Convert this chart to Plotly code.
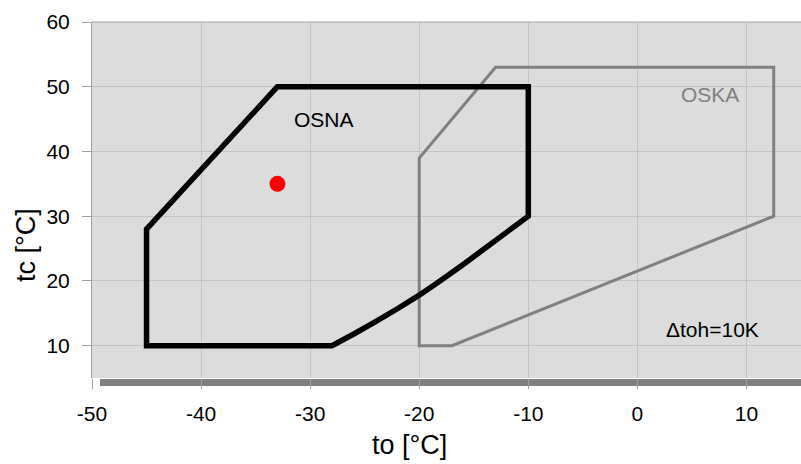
import plotly.graph_objects as go

# OSNA envelope (black); first segment repeated at the end to close the outline cleanly
osna_to = [-45, -45, -33, -10, -10, -12, -14, -16, -18, -20, -22, -24, -26, -28, -45, -45, -33]
osna_tc = [10, 28, 50, 50, 30, 27.5, 25.0, 22.5, 20.1, 17.8, 15.7, 13.7, 11.8, 10, 10, 28, 50]

# OSKA envelope (gray)
oska_to = [-20, -20, -13, 12.5, 12.5, -17, -20, -20, -13]
oska_tc = [10, 39, 53, 53, 30, 10, 10, 39, 53]

# operating point
point_to = [-33]
point_tc = [35]

x_ticks = [-50, -40, -30, -20, -10, 0, 10]
x_ticklabels = ["-50", "-40", "-30", "-20", "-10", "0", "10"]
y_ticks = [10, 20, 30, 40, 50, 60]

FONT = "Liberation Sans, Arial, sans-serif"

fig = go.Figure()
fig.add_trace(go.Scatter(x=oska_to, y=oska_tc, mode="lines",
                         line=dict(color="#808080", width=3, simplify=False), hoverinfo="skip"))
fig.add_trace(go.Scatter(x=osna_to, y=osna_tc, mode="lines",
                         line=dict(color="#000000", width=5.5, simplify=False), hoverinfo="skip"))
fig.add_trace(go.Scatter(x=point_to, y=point_tc, mode="markers",
                         marker=dict(color="#ff0000", size=16), hoverinfo="skip"))

fig.add_annotation(x=-28.7, y=45, text="OSNA", showarrow=False,
                   font=dict(family=FONT, size=21, color="#000000"))
fig.add_annotation(x=6.65, y=48.8, text="OSKA", showarrow=False,
                   font=dict(family=FONT, size=21, color="#808080"))
fig.add_annotation(x=6.9, y=12.5, text="Δtoh=10K", showarrow=False,
                   font=dict(family=FONT, size=21, color="#000000"))

# axis titles
fig.add_annotation(xref="paper", yref="paper", x=0.4485, y=-0.188, text="to [°C]",
                   showarrow=False, xanchor="center", yanchor="middle",
                   font=dict(family=FONT, size=27, color="#000000"))
fig.add_annotation(xref="paper", yref="paper", x=-0.093, y=0.3736, text="tc [°C]",
                   showarrow=False, textangle=-90, xanchor="center", yanchor="middle",
                   font=dict(family=FONT, size=27, color="#000000"))

# dark floor bar under the plot area
fig.add_shape(type="rect", xref="paper", yref="paper",
              x0=0.0113, x1=1.0, y0=-0.0225, y1=-0.003,
              line=dict(width=0), fillcolor="#808080", layer="below")

fig.update_layout(
    width=801, height=464,
    margin=dict(l=92, r=0, t=22, b=86),
    paper_bgcolor="#ffffff",
    plot_bgcolor="#dcdcdc",
    showlegend=False,
    font=dict(family=FONT, size=21, color="#000000"),
)
fig.update_xaxes(range=[-50, 15], tickvals=x_ticks, ticktext=x_ticklabels, showgrid=True,
                 gridcolor="#c4c4c4", gridwidth=1, zeroline=False, ticks="outside", ticklen=10,
                 tickcolor="#a0a0a0", showline=False, ticklabelstandoff=7, tickfont=dict(size=21))
fig.update_yaxes(range=[5, 60], tickvals=y_ticks, showgrid=True, gridcolor="#c4c4c4",
                 gridwidth=1, zeroline=False, ticks="outside", ticklen=9, tickcolor="#a0a0a0",
                 showline=True, linecolor="#a0a0a0", mirror=False, ticklabelstandoff=8,
                 tickfont=dict(size=21))
# top border line
fig.add_shape(type="line", xref="paper", yref="paper", x0=0, x1=1, y0=1, y1=1,
              line=dict(color="#a0a0a0", width=1))

fig.write_html("out.html", config={"displayModeBar": False},
               post_script="document.body.style.margin='0';")
